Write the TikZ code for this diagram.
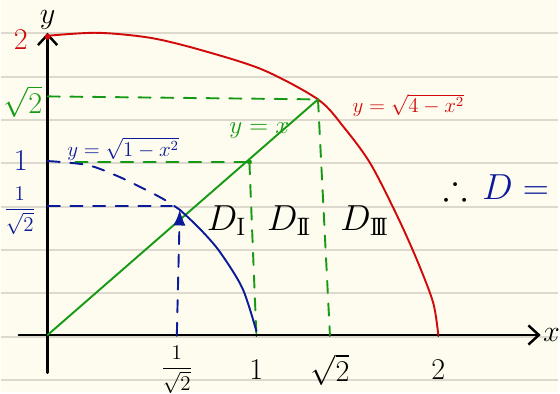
\documentclass[tikz,border=0pt]{standalone}
\usepackage{amsmath,amssymb}
\usetikzlibrary{arrows.meta}

\begin{document}
\begin{tikzpicture}[x=0.02cm, y=-0.02cm,
    pen/.style={line width=1.1pt, line cap=round, line join=round},
    dashpen/.style={pen, dash pattern=on 7pt off 6pt},
    ink/.style={inner sep=0pt}]
    \definecolor{paperColour}{HTML}{FEFCEE}
    \definecolor{ruleColour}{HTML}{DDD9CE}
    \definecolor{redInk}{HTML}{D00A0A}
    \definecolor{greenInk}{HTML}{169A16}
    \definecolor{blueInk}{HTML}{0A1A9A}

    % Draw paper
    \fill[paperColour] (0,0) rectangle (560,394);
    \foreach \k in {0,...,8}
        \draw[ruleColour, line width=1pt] (0,33.5+43.6*\k) -- (560,33.5+43.6*\k);

    % Define key points
    \coordinate (O) at (47,337);
    \coordinate (P) at (319,100);
    \coordinate (Q) at (250,163);
    \coordinate (R) at (180,211);
    \coordinate (yEnd) at (47,33);
    \coordinate (yStart) at (47,375);
    \coordinate (xStart) at (18,337);
    \coordinate (xEnd) at (543,337);

    % Draw axes
    \draw[pen, line width=1.4pt, -{Straight Barb[length=6pt, width=11pt]}] (yStart) -- (yEnd);
    \draw[pen, line width=1.4pt, -{Straight Barb[length=6pt, width=11pt]}] (xStart) -- (xEnd);
    \node[ink] (ylab) at (47,20) {\LARGE $y$};
    \node[ink] (xlab) at (554,337) {\LARGE $x$};

    % Label x-axis
    \foreach \x in {177, 257, 331, 440}
        \fill (\x,337) circle (1.8);
    \node[ink] (ta) at (177,372) {\large $\dfrac{1}{\sqrt{2}}$};
    \node[ink] (tb) at (257,372) {\LARGE $1$};
    \node[ink] (tc) at (331,372) {\LARGE $\sqrt{2}$};
    \node[ink] (td) at (440,372) {\LARGE $2$};

    % Label y-axis
    \node[ink, redInk] (la) at (20,40) {\LARGE $2$};
    \node[ink, greenInk] (lb) at (22,102) {\LARGE $\sqrt{2}$};
    \node[ink, blueInk] (lc) at (20,162) {\LARGE $1$};
    \node[ink, blueInk] (ld) at (19,212) {\large $\dfrac{1}{\sqrt{2}}$};

    % Draw the circle of radius 2
    \draw[pen, redInk] plot[smooth] coordinates {(47,36) (97,33) (150,38) (200,50) (263,70) (P) (345,128) (372,165) (400,220) (420,265) (435,305) (440,337)};
    \fill[redInk] (47,37) circle (3);
    \node[ink, redInk] (redlab) at (410,106) {\large $y=\sqrt{4-x^2}$};

    % Draw the line y=x
    \draw[pen, greenInk] (O) -- (P);
    \fill[greenInk] (Q) circle (2.5);
    \draw[dashpen, greenInk] (47,97) -- (P);
    \draw[dashpen, greenInk] (75,163) -- (Q);
    \draw[dashpen, greenInk] (P) -- (331,337);
    \draw[dashpen, greenInk] (Q) -- (257,337);
    \node[ink, greenInk] (greenlab) at (260,131) {\Large $y=x$};

    % Draw the unit circle
    \draw[dashpen, blueInk] plot[smooth] coordinates {(47,162) (87,166) (117,177) (140,188) (163,200) (R)};
    \draw[pen, blueInk] plot[smooth] coordinates {(R) (200,230) (220,253) (243,290) (257,333)};
    \draw[dashpen, blueInk] (47,207) -- (172,207);
    \draw[dashpen, blueInk, -{Latex[length=9pt, width=7pt]}] (177,337) -- (R);
    \node[ink, blueInk] (bluelab) at (123,150) {\large $y=\sqrt{1-x^2}$};

    % Label the regions
    \node[ink] (d1) at (227,222) {\huge $D_{\mathrm{I}}$};
    \node[ink] (d2) at (290,222) {\huge $D_{\mathrm{I\!I}}$};
    \node[ink] (d3) at (366,222) {\huge $D_{\mathrm{I\!I\!I}}$};

    % Conclusion
    \node[ink] (therefore) at (457,188) {\huge $\therefore$};
    \node[ink, blueInk, anchor=west] (dEq) at (484,188) {\huge $D=$};
\end{tikzpicture}
\end{document}
